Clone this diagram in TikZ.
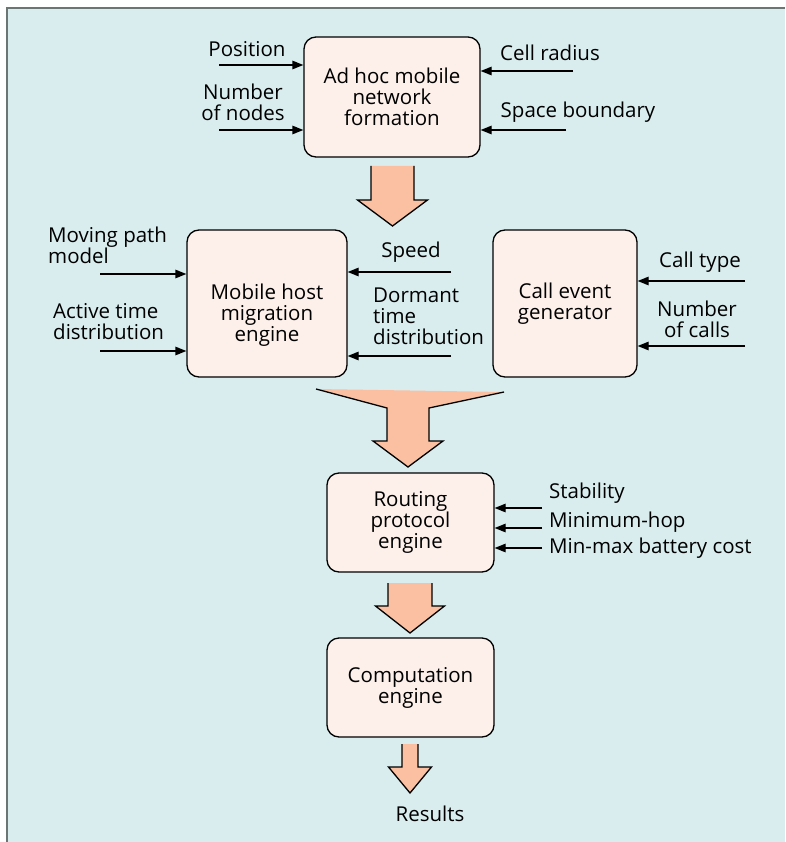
\documentclass[tikz,border=0pt]{standalone}
\usepackage{fontspec}
\setmainfont{Open Sans}
\usetikzlibrary{arrows.meta,calc}
\definecolor{panelbg}{HTML}{D9EDEF}
\definecolor{boxfill}{HTML}{FDF0EA}
\definecolor{fatfill}{HTML}{FBBFA1}
\definecolor{framegray}{HTML}{6B7573}
\tikzset{font={\fontsize{20.5pt}{21pt}\selectfont}}

% broad block arrow: top centre, tip, half shaft, half head, head length
\newcommand{\fatarrow}[5]{%
  \fill[fatfill] ($(#1)+(-#3,0)$) -- ($(#2)+(-#3,-#5)$) -- ($(#2)+(-#4,-#5)$) -- (#2)
    -- ($(#2)+(#4,-#5)$) -- ($(#2)+(#3,-#5)$) -- ($(#1)+(#3,0)$) -- cycle;
  \draw[fatline] ($(#1)+(-#3,0)$) -- ($(#2)+(-#3,-#5)$) -- ($(#2)+(-#4,-#5)$) -- (#2)
    -- ($(#2)+(#4,-#5)$) -- ($(#2)+(#3,-#5)$) -- ($(#1)+(#3,0)$);
}

\begin{document}
\begin{tikzpicture}[x=1pt,y=-1pt,
    block/.style={draw,fill=boxfill,line width=1.3pt,rounded corners=12pt,align=center,inner sep=0pt},
    lbl/.style={align=center,inner sep=0pt},
    lbll/.style={align=left,anchor=west,inner sep=0pt},
    feed/.style={-{Triangle[length=11pt,width=8.5pt]},line width=1.3pt},
    fatline/.style={line width=1.3pt,line join=miter}]

  \useasboundingbox (0,0) rectangle (785,842);
  \fill[panelbg] (7,8) rectangle (785,842);
  \draw[framegray,line width=1.5pt] (7,842) -- (7,8) -- (785,8);

  % boxes
  \node[block,minimum width=176pt,minimum height=120pt] (net) at (392,97) {Ad hoc mobile\\network\\formation};
  \node[block,minimum width=160pt,minimum height=147pt] (host) at (267,303.5) {};
  \node[lbl] (hosttext) at (267,315) {Mobile host\\migration\\engine};
  \node[block,minimum width=144pt,minimum height=147pt] (call) at (565,303.5) {Call event\\generator};
  \node[block,minimum width=167pt,minimum height=99pt] (route) at (410.5,522.5) {Routing\\protocol\\engine};
  \node[block,minimum width=167pt,minimum height=99pt] (comp) at (410.5,687.5) {Computation\\engine};

  % inputs of the network formation
  \node[lbl] (position) at (247,49) {Position};
  \coordinate (positionin) at (219,65);
  \draw[feed] (positionin) -- (positionin -| net.west);
  \node[lbl] (nodes) at (243,102) {Number\\of nodes};
  \coordinate (nodesin) at (219,130);
  \draw[feed] (nodesin) -- (nodesin -| net.west);
  \node[lbl] (radius) at (550,53) {Cell radius};
  \coordinate (radiusin) at (573,71);
  \draw[feed] (radiusin) -- (radiusin -| net.east);
  \node[lbl] (space) at (578,112) {Space boundary};
  \coordinate (spacein) at (566,130);
  \draw[feed] (spacein) -- (spacein -| net.east);

  % inputs of the migration engine
  \node[lbll] (path) at (48,245) {Moving path\\model};
  \coordinate (pathin) at (100,274);
  \draw[feed] (pathin) -- (pathin -| host.west);
  \node[lbll] (active) at (53,322) {Active time\\distribution};
  \coordinate (activein) at (100,351);
  \draw[feed] (activein) -- (activein -| host.west);
  \node[lbl] (speed) at (411,252) {Speed};
  \coordinate (speedin) at (451,272);
  \draw[feed] (speedin) -- (speedin -| host.east);
  \node[lbll] (dormant) at (373,316) {Dormant\\time\\distribution};
  \coordinate (dormantin) at (451,356);
  \draw[feed] (dormantin) -- (dormantin -| host.east);

  % inputs of the call generator
  \node[lbl] (calltype) at (700,262) {Call type};
  \coordinate (calltypein) at (745,281);
  \draw[feed] (calltypein) -- (calltypein -| call.east);
  \node[lbl] (calls) at (697,319) {Number\\of calls};
  \coordinate (callsin) at (745,346);
  \draw[feed] (callsin) -- (callsin -| call.east);

  % routing criteria
  \node[lbll] (stable) at (549,493) {Stability};
  \coordinate (stablein) at (542,508);
  \draw[feed] (stablein) -- (stablein -| route.east);
  \node[lbll] (minhop) at (549,522) {Minimum-hop};
  \coordinate (minhopin) at (542,528);
  \draw[feed] (minhopin) -- (minhopin -| route.east);
  \node[lbll] (battery) at (549,548) {Min-max battery cost};
  \coordinate (batteryin) at (542,548);
  \draw[feed] (batteryin) -- (batteryin -| route.east);

  % block arrows
  \coordinate (firsttop) at (392.5,166);
  \coordinate (firsttip) at (392.5,226);
  \fatarrow{firsttop}{firsttip}{21.5}{35}{26}
  \fill[fatfill] (316,389) -- (387,408) -- (387,441) -- (373,441) -- (408,467)
    -- (443,441) -- (429,441) -- (429,408) -- (504,392) -- cycle;
  \draw[fatline] (316,389) -- (387,408) -- (387,441) -- (373,441) -- (408,467)
    -- (443,441) -- (429,441) -- (429,408) -- (504,392);
  \coordinate (secondtop) at (410,583);
  \coordinate (secondtip) at (410,633);
  \fatarrow{secondtop}{secondtip}{22}{34.5}{27}
  \coordinate (lasttop) at (410,744);
  \coordinate (lasttip) at (410,793);
  \fatarrow{lasttop}{lasttip}{8}{21.5}{26}

  \node[lbl] (results) at (430,814) {Results};
\end{tikzpicture}
\end{document}
